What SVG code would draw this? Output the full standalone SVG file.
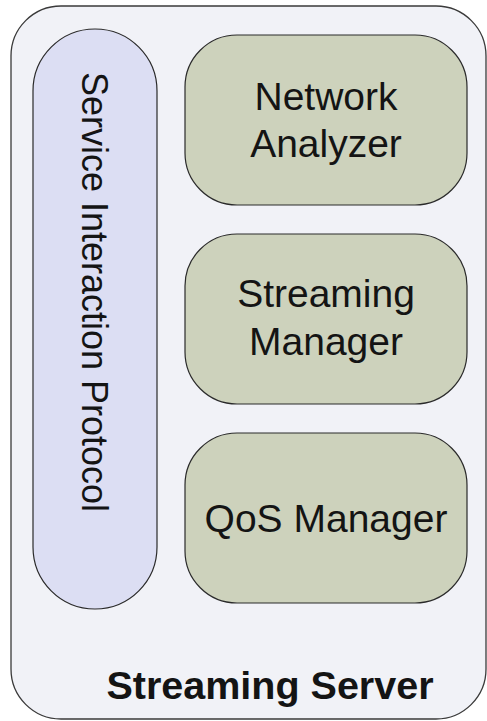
<svg xmlns="http://www.w3.org/2000/svg" width="487" height="721" viewBox="0 0 487 721">
  <style>
    .container { fill: #f1f2f7; stroke: #3a3a3a; stroke-width: 1.3; }
    .protocol { fill: #dcdef3; stroke: #2a2a2a; stroke-width: 1.2; }
    .module { fill: #cdd2bc; stroke: #2a2a2a; stroke-width: 1.2; }
    .label { font-family: "Liberation Sans", Arial, sans-serif; fill: #141414; text-anchor: middle; }
    .big { font-size: 39px; }
    .title { font-size: 39.5px; font-weight: bold; }
  </style>

  <g id="streaming-server">
    <rect class="container" x="11" y="6" width="475" height="713" rx="50" ry="50"/>
    <text class="label title" x="270" y="699">Streaming Server</text>
  </g>

  <g id="service-interaction-protocol">
    <rect class="protocol" x="33" y="29" width="124" height="580" rx="62" ry="62"/>
    <text class="label" style="font-size:36px" transform="translate(82,292) rotate(90)">Service Interaction Protocol</text>
  </g>

  <g id="network-analyzer">
    <rect class="module" x="185" y="35" width="282" height="170" rx="52" ry="52"/>
    <text class="label big" x="326" y="110">Network</text>
    <text class="label big" x="326" y="157">Analyzer</text>
  </g>

  <g id="streaming-manager">
    <rect class="module" x="185" y="234" width="282" height="170" rx="52" ry="52"/>
    <text class="label big" x="326" y="307">Streaming</text>
    <text class="label big" x="326" y="355">Manager</text>
  </g>

  <g id="qos-manager">
    <rect class="module" x="185" y="433" width="282" height="170" rx="52" ry="52"/>
    <text class="label big" x="326" y="532">QoS Manager</text>
  </g>

  <g id="connectors"/>
</svg>
